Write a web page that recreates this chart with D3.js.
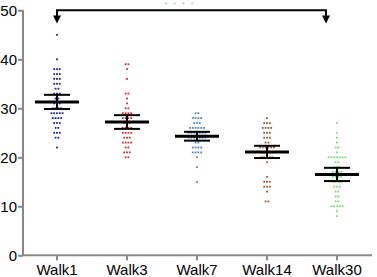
<!DOCTYPE html>
<html lang="en">
  <head>
    <meta charset="utf-8">
    <title>Walk scores</title>
    <style>
      body { margin: 0; background: white; }
      svg { display: block; }
      .axis text { font-family: "Liberation Sans", Arial, sans-serif; fill: black; }
      .axis line, .axis path { stroke: #888; stroke-width: 2; }
    </style>
    <script src="https://d3js.org/d3.v7.min.js"></script>
  </head>
  <body>
    <script>
    const groups = ["Walk1", "Walk3", "Walk7", "Walk14", "Walk30"];
    const colors = ["#24248f", "#c83434", "#5088c4", "#9c5c2c", "#7ad87a"];

    const walk1 = [45, 40, 38, 38, 38, 37, 37, 37, 36, 36, 36, 35, 35, 35, 34, 34, 33, 33, 33,
      32, 32, 31, 31, 31, 30, 30, 30, 30, 29, 29, 29, 29, 29, 28, 28, 28, 28, 27, 27, 27,
      26, 26, 25, 25, 25, 24, 24, 22];
    const walk3 = [39, 39, 38, 36, 33, 33, 32, 31, 30, 30, 29, 29, 29, 29, 28, 28, 28, 28,
      27, 27, 27, 26, 26, 26, 26, 25, 25, 25, 25, 24, 24, 24, 23, 23, 23, 23, 22, 22,
      21, 21, 21, 20, 20];
    const walk7 = [29, 29, 28, 28, 28, 28, 27, 27, 27, 26, 26, 26, 26, 26, 26, 25, 25, 25, 25,
      25, 25, 25, 24, 24, 24, 24, 24, 24, 24, 23, 23, 22, 22, 22, 22, 21, 21, 21, 21, 20, 18, 15];
    const walk14 = [28, 27, 27, 27, 26, 26, 26, 26, 25, 25, 25, 24, 24, 24, 23, 23, 22, 22, 22,
      22, 22, 22, 21, 21, 21, 21, 21, 20, 20, 20, 20, 20, 19, 16, 15, 15, 15, 14, 14, 14, 13, 11, 11];
    const walk30 = [27, 25, 24, 23, 22, 22, 21, 20, 20, 20, 20, 20, 20, 20, 19, 19, 18, 18, 18,
      17, 17, 17, 17, 16, 16, 16, 16, 15, 15, 15, 15, 14, 14, 14, 13, 13, 12, 12, 11, 11,
      10, 10, 10, 10, 10, 9, 8];
    const series = [walk1, walk3, walk7, walk14, walk30];

    const means = [31.3, 27.2, 24.3, 21.1, 16.5];
    const sems = [1.45, 1.4, 0.9, 1.25, 1.35];
    const yTicks = [0, 10, 20, 30, 40, 50];

    const W = 377, H = 277;
    const svg = d3.select("body").append("svg")
      .attr("width", W)
      .attr("height", H);

    const x = d3.scaleBand().domain(groups).range([22, 372]);
    const y = d3.scaleLinear().domain([0, 50]).range([255.3, 10.3]);
    const cx = g => x(g) + x.bandwidth() / 2;

    // axes
    const yAxis = svg.append("g")
      .attr("class", "axis")
      .attr("transform", "translate(23,0)")
      .call(d3.axisLeft(y).tickValues(yTicks).tickSize(5).tickPadding(1))
    yAxis.select(".domain").attr("d", `M0,${y(50)}V${y(0)}`);
    yAxis.selectAll("text").style("font-size", "15px");

    const xAxis = svg.append("g")
      .attr("class", "axis")
      .attr("transform", `translate(0,${y(0)})`)
      .call(d3.axisBottom(x).tickSize(5).tickPadding(4))
    xAxis.select(".domain").attr("d", "M22,0H372");
    xAxis.selectAll("text").style("font-size", "15px");

    // dots, stacked side by side per integer value
    const dots = [];
    series.forEach((vals, gi) => {
      const counts = d3.rollup(vals, v => v.length, d => d);
      counts.forEach((n, v) => {
        for (let i = 0; i < n; i++) {
          dots.push({ g: groups[gi], gi: gi, v: v, off: (i - (n - 1) / 2) * 2.8 });
        }
      });
    });

    svg.append("g").selectAll("rect")
      .data(dots)
      .join("rect")
      .attr("x", d => cx(d.g) + d.off - 0.9)
      .attr("y", d => y(d.v) - 0.9)
      .attr("width", 1.8)
      .attr("height", 1.8)
      .attr("fill", (d) => colors[d.gi]);

    // mean and sem
    const stats = groups.map((g, i) => ({ g: g, m: means[i], s: sems[i] }));
    const st = svg.append("g").selectAll("g").data(stats).join("g");
    st.append("line")
      .attr("x1", d => cx(d.g)).attr("x2", d => cx(d.g))
      .attr("y1", d => y(d.m + d.s)).attr("y2", d => y(d.m - d.s))
      .attr("stroke", "black").attr("stroke-width", 2);
    st.append("line")
      .attr("x1", d => cx(d.g) - 22).attr("x2", d => cx(d.g) + 22)
      .attr("y1", d => y(d.m)).attr("y2", d => y(d.m))
      .attr("stroke", "black").attr("stroke-width", 3);
    [1, -1].forEach(k => {
      st.append("line")
        .attr("x1", d => cx(d.g) - 13).attr("x2", d => cx(d.g) + 13)
        .attr("y1", d => y(d.m + k * d.s)).attr("y2", d => y(d.m + k * d.s))
        .attr("stroke", "black").attr("stroke-width", 2);
    });

    // bracket with arrows
    const bx1 = cx("Walk1"), bx2 = cx("Walk30") - 11;
    const by = y(50), tip = y(47.3);
    svg.append("path")
      .attr("d", `M${bx1},${tip - 6}V${by}H${bx2}V${tip - 6}`)
      .attr("fill", "none").attr("stroke", "black").attr("stroke-width", 2);
    [bx1, bx2].forEach(bx => {
      svg.append("path")
        .attr("d", `M${bx - 4},${tip - 8}L${bx + 4},${tip - 8}L${bx},${tip}Z`)
        .attr("fill", "black");
    });

    svg.append("text")
      .attr("x", 182).attr("y", 7)
      .attr("text-anchor", "middle")
      .style("font-family", "Liberation Sans, Arial, sans-serif")
      .style("font-size", "7px")
      .style("letter-spacing", "6px")
      .style("fill", "#9c9")
      .text("****");
    </script>
  </body>
</html>
